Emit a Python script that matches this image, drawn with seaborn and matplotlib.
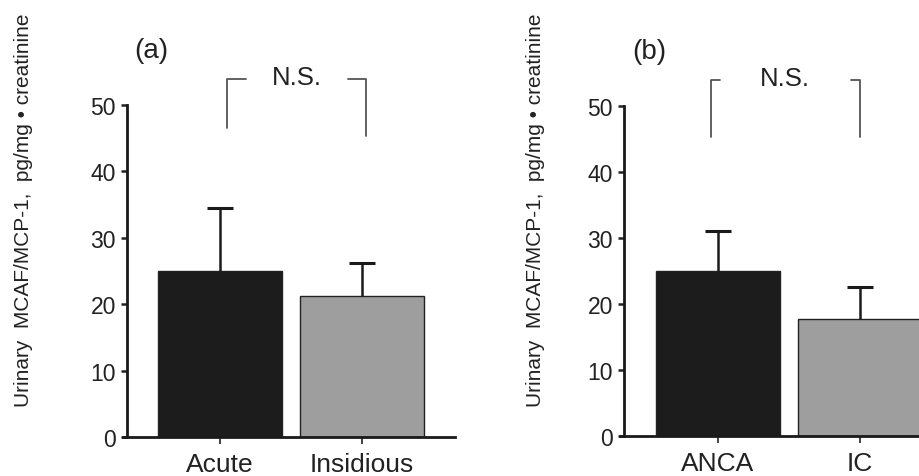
import pandas as pd
import seaborn as sns
import matplotlib.pyplot as plt

# 数据
groups_a = ['Acute', 'Insidious']
means_a = [25.0, 21.3]
sd_a = [9.5, 4.9]

groups_b = ['ANCA', 'IC']
means_b = [25.0, 17.7]
sd_b = [6.0, 4.9]

panel_tags = ['(a)', '(b)']
sig_text = 'N.S.'
# 括号: 两条竖线的 x 位置 (类别坐标), 竖线下端高度, 顶部高度 (数据单位)
bracket_top = 53.9
bracket_x_a = [0.05, 1.03]
bracket_x_b = [-0.05, 1.0]
bracket_ends_a = [46.5, 45.3]
bracket_ends_b = [45.3, 45.3]
bracket_arm_a = 0.13
bracket_arm_b = 0.065

YLABEL = 'Urinary  MCAF/MCP-1,  pg/mg \u2022 creatinine'
BAR_COLORS = ['#1c1c1c', '#9e9e9e']

sns.set_style('ticks')
plt.rcParams['font.family'] = ['Liberation Sans', 'DejaVu Sans']

fig = plt.figure(figsize=(9.19, 4.77), dpi=100)
W, H = 919, 477


def px_axes(x0, x1, y_top, y_bot):
    return fig.add_axes([x0 / W, (H - y_bot) / H, (x1 - x0) / W, (y_bot - y_top) / H])


def draw_panel(ax, groups, means, sd, tag, bx, ends, arm, xlim, label_x):
    df = pd.DataFrame({'group': groups, 'value': means})
    sns.barplot(data=df, x='group', y='value', hue='group', palette=BAR_COLORS,
                width=0.87, edgecolor='#222222', linewidth=1.0, legend=False,
                errorbar=None, ax=ax)
    _, caps, _ = ax.errorbar(range(len(groups)), means, yerr=[[0] * len(sd), sd],
                             fmt='none', ecolor='#1a1a1a', elinewidth=1.8,
                             capsize=9.5, capthick=2.2, zorder=3)
    caps[0].set_visible(False)  # 只保留上端横线
    ax.set_ylim(0, 50)
    ax.set_xlim(*xlim)
    ax.set_yticks([0, 10, 20, 30, 40, 50])
    ax.set_xlabel('')
    ax.set_ylabel(YLABEL, fontsize=15, color='#222222')
    ax.yaxis.label.set_va('center')
    ax.yaxis.set_label_coords(label_x, 0.687)
    ax.tick_params(axis='y', labelsize=16.5, length=4, width=1.8, pad=4, colors='#222222')
    ax.tick_params(axis='x', labelsize=19, length=5, width=1.2, pad=6, colors='#222222')
    for s in ['top', 'right']:
        ax.spines[s].set_visible(False)
    ax.spines['left'].set_linewidth(2.0)
    ax.spines['bottom'].set_linewidth(2.0)
    ax.spines['bottom'].set_bounds(xlim[0] - 0.03, xlim[1])
    ax.spines['left'].set_color('#1a1a1a')
    ax.spines['bottom'].set_color('#1a1a1a')

    # 显著性括号
    kw = dict(color='#555555', lw=1.3, clip_on=False)
    ax.plot([bx[0], bx[0], bx[0] + arm], [ends[0], bracket_top, bracket_top], **kw)
    ax.plot([bx[1] - arm, bx[1], bx[1]], [bracket_top, bracket_top, ends[1]], **kw)
    ax.text((bx[0] + bx[1]) / 2, bracket_top + 0.3, sig_text, ha='center', va='center',
            fontsize=18.5, color='#222222')
    ax.text(-0.485, 58.3, tag, ha='center', va='center', fontsize=20, color='#222222')


ax1 = px_axes(127, 455, 106, 438)
draw_panel(ax1, groups_a, means_a, sd_a, panel_tags[0], bracket_x_a, bracket_ends_a,
           bracket_arm_a, (-0.655, 1.655), -0.317)

ax2 = px_axes(624, 919, 107, 437)
draw_panel(ax2, groups_b, means_b, sd_b, panel_tags[1], bracket_x_b, bracket_ends_b,
           bracket_arm_b, (-0.66, 1.415), -0.30)

fig.savefig('out.png', dpi=100)
